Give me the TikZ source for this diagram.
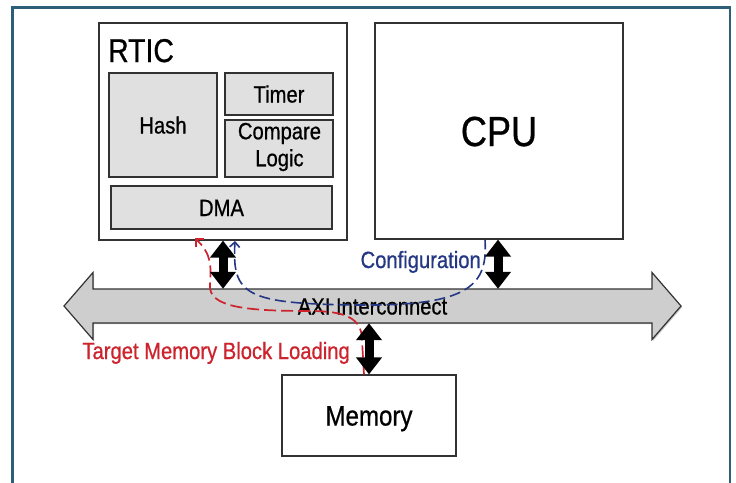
\documentclass[tikz,border=0pt]{standalone}
\usepackage{fontspec}
\setmainfont{Liberation Sans}[FakeStretch=0.86,FakeBold=0.7]
\usetikzlibrary{arrows.meta,shadows}
\definecolor{framec}{RGB}{45,95,120}
\definecolor{boxline}{RGB}{50,50,50}
\definecolor{blockfill}{RGB}{224,224,224}
\definecolor{axifill}{RGB}{206,206,206}
\definecolor{cfgblue}{RGB}{35,55,130}
\definecolor{loadred}{RGB}{205,35,45}
\begin{document}
\begin{tikzpicture}[x=1pt,y=-1pt,
  shadowed/.style={drop shadow={shadow xshift=1.2pt,shadow yshift=-1.2pt,opacity=0.22,fill=black}},
  box/.style={draw=boxline,line width=1.2pt,fill=white,inner sep=0pt,shadowed},
  block/.style={box,fill=blockfill},
  smalltxt/.style={font=\fontsize{23.5}{27}\selectfont,text height=17pt,text depth=0pt},
  bus/.style={draw=boxline,line width=1.2pt,fill=axifill,shadowed},
  fatarrow/.style={line width=9pt,black,{Triangle[length=17pt,width=25pt]}-{Triangle[length=17pt,width=25pt]}},
  flowcfg/.style={draw=cfgblue,line width=1.6pt,dash pattern=on 11pt off 5pt,{Straight Barb[length=5pt,width=10pt]}-},
  flowload/.style={draw=loadred,line width=1.7pt,dash pattern=on 12pt off 5pt,-{Straight Barb[length=6pt,width=12pt]}}
]
\useasboundingbox (0,0) rectangle (736,482);
% outer frame
\draw[framec,line width=2.6pt] (12.5,495) -- (12.5,7.5) -- (730,7.5) -- (730,495);

% RTIC block
\node[box,minimum width=248pt,minimum height=217pt] (rtic) at (223,131.5) {};
\node[anchor=base west,inner sep=0pt,font=\fontsize{33}{36}\selectfont] (rticlbl) at (108,62) {RTIC};
\node[block,smalltxt,minimum width=108pt,minimum height=104pt] (hash) at (163,125) {Hash};
\node[block,smalltxt,minimum width=108pt,minimum height=42pt] (timer) at (279,94) {Timer};
\node[block,minimum width=108pt,minimum height=57pt] (cmp) at (279,148.5) {};
\node[align=center,inner sep=0pt,font=\fontsize{23.5}{27}\selectfont] (cmplbl) at (279.5,147) {Compare\\Logic};
\node[block,smalltxt,minimum width=221pt,minimum height=43pt] (dma) at (221.5,207.5) {DMA};

% CPU
\node[box,minimum width=248pt,minimum height=216pt,font=\fontsize{42}{46}\selectfont,text height=30pt,text depth=0pt] (cpu) at (499,131) {CPU};

% Memory
\node[box,minimum width=174pt,minimum height=81pt,font=\fontsize{28}{32}\selectfont,text height=20pt,text depth=0pt] (mem) at (369,415.5) {Memory};

% AXI interconnect bus
\path[bus] (64,306) -- (93,272.5) -- (93,289) -- (652,289) -- (652,272.5) -- (681,306)
  -- (652,339.5) -- (652,323) -- (93,323) -- (93,339.5) -- cycle;
\node[smalltxt,inner sep=0pt,minimum width=559pt,minimum height=34pt] (axi) at (372.5,306) {AXI Interconnect};

% data-flow curves
\draw[flowcfg] (235,241) .. controls (232,295) and (245,304) .. (360,305)
  .. controls (470,306) and (488,285) .. (cpu.south -| 485,0);
\draw[flowload] (mem.north -| 364,0) -- (362,340) .. controls (362,318) and (345,311) .. (310,311)
  .. controls (250,311) and (208,308) .. (210,285) .. controls (211,265) and (212,255) .. (195,238);

% bus connections
\draw[fatarrow] (rtic.south) -- (rtic.south |- axi.north);
\draw[fatarrow] (cpu.south -| 498,0) -- (axi.north -| 498,0);
\draw[fatarrow] (mem.north) -- (mem.north |- axi.south);

% labels
\node[anchor=base east,inner sep=0pt,text=cfgblue,font=\fontsize{23.5}{27}\selectfont] (cfglbl) at (481,268) {Configuration};
\node[anchor=base east,inner sep=0pt,text=loadred,font=\fontsize{23.5}{27}\selectfont] (loadlbl) at (350,359) {Target Memory Block Loading};
\end{tikzpicture}
\end{document}
